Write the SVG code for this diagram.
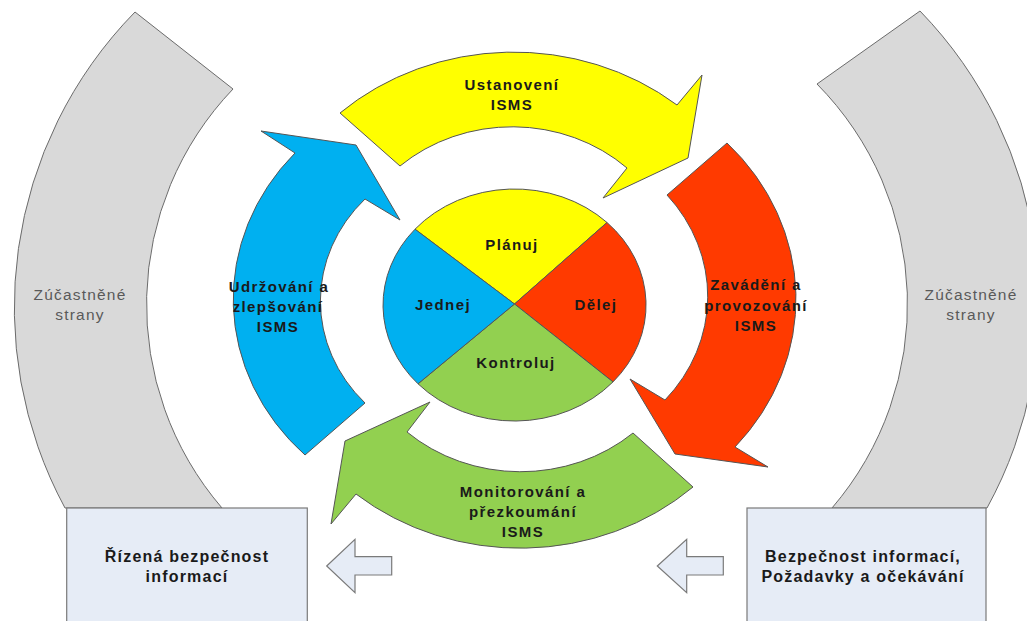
<svg xmlns="http://www.w3.org/2000/svg" width="1027" height="621" viewBox="0 0 1027 621">
<style>
.sh{stroke:#555;stroke-width:1;stroke-linejoin:miter}
.gray{fill:#D9D9D9;stroke:#6b6b6b;stroke-width:1}
.box{fill:#E6ECF6;stroke:#7a7a7a;stroke-width:1.2}
.lb{font-family:"Liberation Sans",Arial,sans-serif;font-weight:bold;font-size:15px;fill:#1a1a1a;text-anchor:middle;letter-spacing:1.4px}
.bx{font-family:"Liberation Sans",Arial,sans-serif;font-weight:bold;font-size:16px;fill:#1a1a1a;text-anchor:middle;letter-spacing:1.2px}
.gl{font-family:"Liberation Sans",Arial,sans-serif;font-size:15.5px;fill:#595959;text-anchor:middle;letter-spacing:1.2px}
</style>
<rect width="1027" height="621" fill="#fff"/>
<g id="strany-left">
<path class="gray" d="M135,12 L233,89 A312,312 0 0,0 222,508 L65,508 A422,422 0 0,1 135,12 Z"/>
<text class="gl" x="80" y="300">Zúčastněné</text>
<text class="gl" x="80" y="320">strany</text>
</g>
<g id="strany-right">
<path class="gray" d="M920,11 A422,422 0 0,1 987,508 L832,508 A313,313 0 0,0 817,84 Z"/>
<text class="gl" x="971" y="300">Zúčastněné</text>
<text class="gl" x="971" y="320">strany</text>
</g>
<g id="ustanoveni">
<path class="sh" fill="#FFFF00" d="M340,113 A258,234 0 0,1 677,105 L702,75 L688,158 L603,198 L627,168 A168,153 0 0,0 400,166 Z"/>
<text class="lb" x="512" y="90">Ustanovení</text>
<text class="lb" x="512" y="110">ISMS</text>
</g>
<g id="zavadeni">
<path class="sh" fill="#FF3A00" d="M727,143 A247,225 0 0,1 735,447 L768,467 L675,454 L630,379 L665,400 A172,157 0 0,0 667,195 Z"/>
<text class="lb" x="756" y="290">Zavádění a</text>
<text class="lb" x="756" y="310.5">provozování</text>
<text class="lb" x="756" y="331">ISMS</text>
</g>
<g id="monitorovani">
<path class="sh" fill="#92D050" d="M693,487 A256,233 0 0,1 356,494 L331,524 L345,441 L430,402 L407,432 A169,153 0 0,0 633,433 Z"/>
<text class="lb" x="523" y="497">Monitorování a</text>
<text class="lb" x="523" y="517">přezkoumání</text>
<text class="lb" x="523" y="537">ISMS</text>
</g>
<g id="udrzovani">
<path class="sh" fill="#00B0F0" d="M305,455 A239,218 0 0,1 295,153 L261,131 L356,145 L400,220 L365,199 A162,148 0 0,0 365,403 Z"/>
<text class="lb" x="279" y="292">Udržování a</text>
<text class="lb" x="278" y="312">zlepšování</text>
<text class="lb" x="278" y="332">ISMS</text>
</g>
<g id="pdca">
<path class="sh" fill="#FFFF00" d="M514.5,304 L415,229.2 A131.5,116 0 0,1 607,222.5 Z"/>
<path class="sh" fill="#FF3A00" d="M514.5,304 L607,222.5 A131.5,116 0 0,1 613,381.9 Z"/>
<path class="sh" fill="#92D050" d="M514.5,304 L613,381.9 A131.5,116 0 0,1 418,383.8 Z"/>
<path class="sh" fill="#00B0F0" d="M514.5,304 L418,383.8 A131.5,116 0 0,1 415,229.2 Z"/>
<text class="lb" x="512" y="250">Plánuj</text>
<text class="lb" x="596" y="310">Dělej</text>
<text class="lb" x="516" y="368">Kontroluj</text>
<text class="lb" x="443" y="310">Jednej</text>
</g>
<g id="box-left">
<rect class="box" x="66.7" y="508" width="240.6" height="120"/>
<text class="bx" x="187" y="562">Řízená bezpečnost</text>
<text class="bx" x="187" y="582">informací</text>
</g>
<g id="box-right">
<rect class="box" x="747" y="508" width="239" height="120"/>
<text class="bx" x="863" y="562">Bezpečnost informací,</text>
<text class="bx" x="863" y="582">Požadavky a očekávání</text>
</g>
<g id="connectors">
<path class="box" d="M326.7,566 L355,539.3 L355,556.7 L391.7,556.7 L391.7,575 L355,575 L355,592.7 Z"/>
<path class="box" d="M657.3,566 L686.7,539.3 L686.7,556.7 L723.3,556.7 L723.3,575 L686.7,575 L686.7,592.7 Z"/>
</g>
</svg>
